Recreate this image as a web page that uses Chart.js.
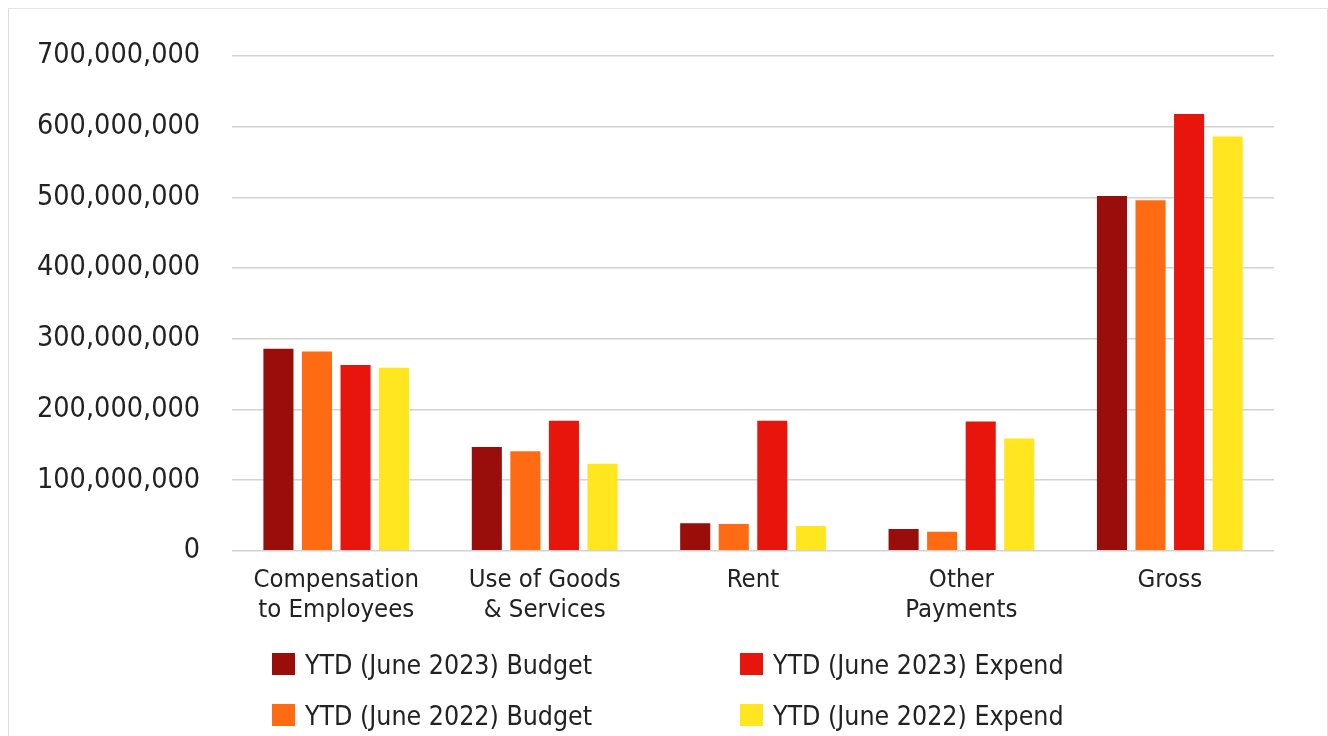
<!DOCTYPE html>
<html>
<head>
<meta charset="utf-8">
<script src="https://cdn.jsdelivr.net/npm/chart.js@4/dist/chart.umd.min.js"></script>
<style>
  html, body { margin: 0; padding: 0; background: #fff; }
  #wrap { position: relative; width: 1328px; height: 736px; overflow: hidden; }
  #frame { position: absolute; left: 8px; top: 8px; width: 1318px; height: 740px;
           border-left: 1px solid #dcdcdc; border-top: 1px solid #e4e4e4; border-right: 1px solid #dcdcdc; }
  #legend { position: absolute; left: 272px; top: 653px; display: grid;
            grid-template-columns: 468px 400px; row-gap: 29px;
            font-family: 'DejaVu Sans Condensed', 'DejaVu Sans', sans-serif; font-size: 26.5px; color: #222; }
  .item { display: flex; align-items: center; height: 22px; white-space: nowrap; }
  .box { width: 23px; height: 22px; margin-right: 10px; flex: none; }
</style>
</head>
<body>
<div id="wrap">
  <div id="frame"></div>
  <canvas id="myChart"></canvas>
  <div id="legend"></div>
</div>
<script>
  const categories = [
    ['Compensation', 'to Employees'],
    ['Use of Goods', '& Services'],
    'Rent',
    ['Other', 'Payments'],
    'Gross'
  ];
  const budget2023 = [286000000, 147000000, 39000000, 31000000, 502000000];
  const budget2022 = [282000000, 141000000, 38000000, 27000000, 496000000];
  const expend2023 = [263000000, 184000000, 184000000, 183000000, 618000000];
  const expend2022 = [259000000, 123000000, 35000000, 159000000, 586000000];
  const yTicks = [0, 100000000, 200000000, 300000000, 400000000, 500000000, 600000000, 700000000];

  const fontName = "'DejaVu Sans Condensed', 'DejaVu Sans', sans-serif";

  const data = {
    labels: categories,
    datasets: [
      { label: 'YTD (June 2023) Budget', backgroundColor: '#990d0a', data: budget2023 },
      { label: 'YTD (June 2022) Budget', backgroundColor: '#ff6b12', data: budget2022 },
      { label: 'YTD (June 2023) Expend', backgroundColor: '#e8150d', data: expend2023 },
      { label: 'YTD (June 2022) Expend', backgroundColor: '#ffe61e', data: expend2022 }
    ]
  };

  const config = {
    type: 'bar',
    data: data,
    options: {
      responsive: true,
      maintainAspectRatio: false,
      animation: false,
      layout: { padding: { left: 5, right: 54, top: 56, bottom: 104 } },
      datasets: { bar: { barPercentage: 0.78, categoryPercentage: 0.74 } },
      plugins: {
        legend: { display: false },
        tooltip: { enabled: false }
      },
      scales: {
        x: {
          grid: { display: false },
          border: { display: false },
          ticks: {
            color: '#222',
            padding: 6,
            maxRotation: 0,
            autoSkip: false,
            font: { family: fontName, size: 25.5, lineHeight: 1.2 }
          }
        },
        y: {
          min: 0,
          max: yTicks[yTicks.length - 1],
          afterBuildTicks: (axis) => { axis.ticks = yTicks.map(v => ({ value: v })); },
          grid: { color: '#d2d2d2', lineWidth: 1.5, drawTicks: false },
          border: { display: false },
          ticks: {
            color: '#222',
            padding: 32,
            font: { family: fontName, size: 28.5 },
            callback: (v) => Number(v).toLocaleString('en-US')
          }
        }
      }
    }
  };

  const myChart = new Chart(document.getElementById('myChart'), config);

  // legend laid out as 2x2: budgets on the left, expends on the right
  const legendOrder = [0, 2, 1, 3];
  const legendEl = document.getElementById('legend');
  legendOrder.forEach(i => {
    const ds = myChart.data.datasets[i];
    const item = document.createElement('div');
    item.className = 'item';
    const box = document.createElement('span');
    box.className = 'box';
    box.style.background = ds.backgroundColor;
    const txt = document.createElement('span');
    txt.textContent = ds.label;
    item.appendChild(box);
    item.appendChild(txt);
    legendEl.appendChild(item);
  });
</script>
</body>
</html>
